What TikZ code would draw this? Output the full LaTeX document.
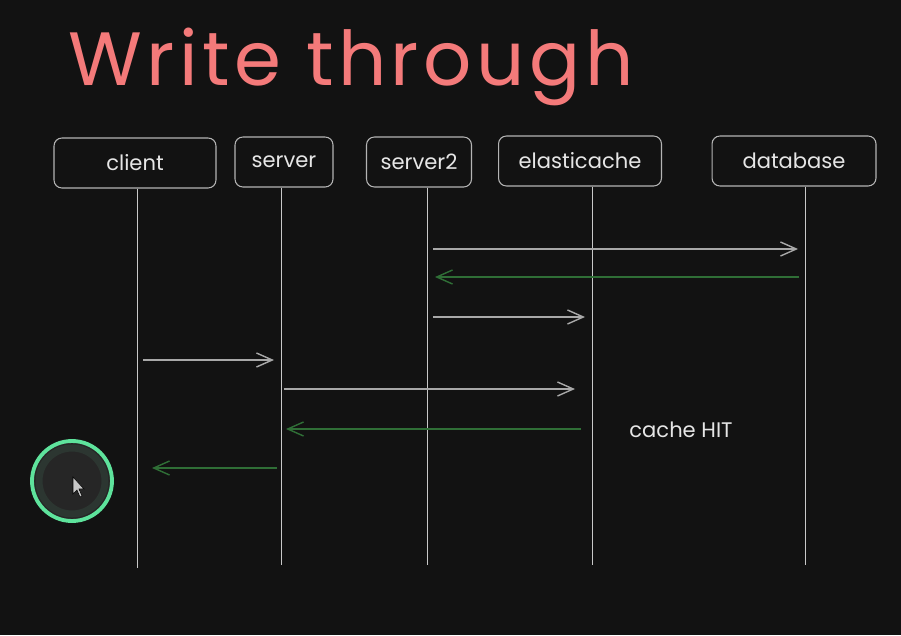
\documentclass[tikz,border=0pt]{standalone}
\usepackage{fontspec}
\setmainfont{Poppins}
\usepackage{tikz}
\usetikzlibrary{arrows.meta}

\definecolor{bgdark}{HTML}{121212}
\definecolor{titlepink}{HTML}{F47A7A}
\definecolor{boxline}{HTML}{B4B4B4}
\definecolor{labeltext}{HTML}{E6E6E6}
\definecolor{lifegray}{HTML}{C8C8C8}
\definecolor{msggray}{HTML}{A8A8A8}
\definecolor{replygreen}{HTML}{2F6E36}
\definecolor{ringgreen}{HTML}{5EE39C}
\definecolor{ringdark}{HTML}{2C3631}

\begin{document}
\begin{tikzpicture}[
            x=0.02cm, y=-0.02cm,
            actor/.style={
                draw=boxline,
                line width=0.6pt,
                rounded corners=4.5pt,
                text=labeltext,
                font=\fontsize{12}{14}\selectfont,
                minimum height=1cm,
                inner sep=0pt
            },
            life/.style={draw=lifegray, line width=0.45pt},
            msg/.style={draw=msggray, line width=0.8pt, -{Straight Barb[length=9pt, width=8pt, line width=0.8pt]}},
            reply/.style={draw=replygreen, line width=0.8pt, -{Straight Barb[length=9pt, width=8pt, line width=0.8pt]}}
        ]

        \fill[bgdark] (0,0) rectangle (901,635);
        \useasboundingbox (0,0) rectangle (901,635);

        \node[anchor=base west, text=titlepink, inner sep=0pt,
              font=\fontsize{43}{48}\selectfont\addfontfeatures{LetterSpace=6}] (title) at (68,86) {Write through};

        \node[actor, minimum width=3.24cm] (client) at (135,163) {client};
        \node[actor, minimum width=1.96cm] (server) at (284,162) {server};
        \node[actor, minimum width=2.10cm] (server2) at (419,162) {server2};
        \node[actor, minimum width=3.26cm] (elasticache) at (580,161) {elasticache};
        \node[actor, minimum width=3.28cm] (database) at (794,161) {database};

        % lifelines
        \coordinate (client end) at (137,568);
        \coordinate (server end) at (281,565);
        \coordinate (server2 end) at (427,565);
        \coordinate (elasticache end) at (592,565);
        \coordinate (database end) at (805,565);
        \draw[life] (client.south -| client end) -- (client end);
        \draw[life] (server.south -| server end) -- (server end);
        \draw[life] (server2.south -| server2 end) -- (server2 end);
        \draw[life] (elasticache.south -| elasticache end) -- (elasticache end);
        \draw[life] (database.south -| database end) -- (database end);

        % messages
        \coordinate (write db from) at (433,249);
        \coordinate (write db to) at (798,249);
        \coordinate (ack db from) at (799,277);
        \coordinate (ack db to) at (435,277);
        \coordinate (write cache from) at (433,317);
        \coordinate (write cache to) at (585,317);
        \coordinate (request from) at (143,360);
        \coordinate (request to) at (274,360);
        \coordinate (read cache from) at (284,389);
        \coordinate (read cache to) at (575,389);
        \coordinate (hit from) at (581,429);
        \coordinate (hit to) at (286,429);
        \coordinate (response from) at (277,468);
        \coordinate (response to) at (152,468);

        \draw[msg] (write db from) -- (write db to);
        \draw[reply] (ack db from) -- (ack db to);
        \draw[msg] (write cache from) -- (write cache to);
        \draw[msg] (request from) -- (request to);
        \draw[msg] (read cache from) -- (read cache to);
        \draw[reply] (hit from) -- (hit to);
        \draw[reply] (response from) -- (response to);

        \node[text=labeltext, font=\fontsize{12}{14}\selectfont] (hit label) at (681,430) {cache HIT};

        % pointer
        \fill[black!85] (72,481) circle[radius=39];
        \draw[ringdark, line width=4pt] (72,481) circle[radius=33];
        \draw[ringgreen, line width=2.2pt] (72,481) circle[radius=40];
        \filldraw[fill=lifegray, draw=black, line width=0.3pt]
            (73,477) -- (73,494) -- (77,490) -- (80,497) -- (82,496) -- (79,489) -- (84,489) -- cycle;

    \end{tikzpicture}
\end{document}
